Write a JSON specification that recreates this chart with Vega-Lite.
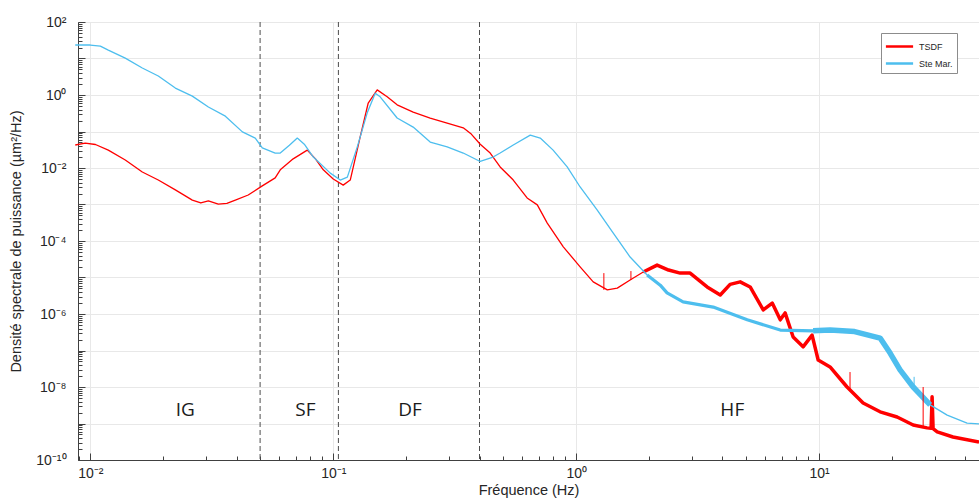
{
  "$schema": "https://vega.github.io/schema/vega-lite/v6.json",
  "width": 901,
  "height": 438,
  "autosize": {"type": "none"},
  "padding": {"left": 78, "top": 22, "right": 0, "bottom": 40},
  "background": "white",
  "config": {
    "view": {"stroke": "#404040", "strokeWidth": 1},
    "font": "Liberation Sans",
    "axis": {
      "labelFont": "Liberation Sans",
      "titleFont": "Liberation Sans",
      "labelColor": "#262626",
      "titleColor": "#262626",
      "domainColor": "#404040",
      "tickColor": "#404040",
      "gridColor": "#e8e8e8",
      "titleFontWeight": "normal",
      "labelFontSize": 14,
      "titleFontSize": 14.5,
      "labelOverlap": false,
      "labelFlush": false
    }
  },
  "datasets": {
    "psd": [
      {"series": "TSDF", "freq": 0.00867, "psd": 0.0427},
      {"series": "TSDF", "freq": 0.00953, "psd": 0.0479},
      {"series": "TSDF", "freq": 0.0105, "psd": 0.044},
      {"series": "TSDF", "freq": 0.01186, "psd": 0.0309},
      {"series": "TSDF", "freq": 0.01393, "psd": 0.0166},
      {"series": "TSDF", "freq": 0.01637, "psd": 0.00776},
      {"series": "TSDF", "freq": 0.01905, "psd": 0.00468},
      {"series": "TSDF", "freq": 0.02239, "psd": 0.00251},
      {"series": "TSDF", "freq": 0.0263, "psd": 0.00132},
      {"series": "TSDF", "freq": 0.0285, "psd": 0.0011},
      {"series": "TSDF", "freq": 0.03062, "psd": 0.00126},
      {"series": "TSDF", "freq": 0.03365, "psd": 0.00102},
      {"series": "TSDF", "freq": 0.0365, "psd": 0.00107},
      {"series": "TSDF", "freq": 0.03954, "psd": 0.00132},
      {"series": "TSDF", "freq": 0.04467, "psd": 0.00182},
      {"series": "TSDF", "freq": 0.05105, "psd": 0.00324},
      {"series": "TSDF", "freq": 0.05768, "psd": 0.00537},
      {"series": "TSDF", "freq": 0.06053, "psd": 0.00891},
      {"series": "TSDF", "freq": 0.0684, "psd": 0.0178},
      {"series": "TSDF", "freq": 0.07816, "psd": 0.0309},
      {"series": "TSDF", "freq": 0.0845, "psd": 0.0178},
      {"series": "TSDF", "freq": 0.09099, "psd": 0.00891},
      {"series": "TSDF", "freq": 0.1, "psd": 0.00501},
      {"series": "TSDF", "freq": 0.1099, "psd": 0.00339},
      {"series": "TSDF", "freq": 0.1175, "psd": 0.00468},
      {"series": "TSDF", "freq": 0.1291, "psd": 0.0708},
      {"series": "TSDF", "freq": 0.1393, "psd": 0.603},
      {"series": "TSDF", "freq": 0.1517, "psd": 1.38},
      {"series": "TSDF", "freq": 0.1667, "psd": 0.891},
      {"series": "TSDF", "freq": 0.1832, "psd": 0.537},
      {"series": "TSDF", "freq": 0.2133, "psd": 0.339},
      {"series": "TSDF", "freq": 0.2506, "psd": 0.234},
      {"series": "TSDF", "freq": 0.2944, "psd": 0.17},
      {"series": "TSDF", "freq": 0.3428, "psd": 0.126},
      {"series": "TSDF", "freq": 0.37, "psd": 0.085},
      {"series": "TSDF", "freq": 0.4027, "psd": 0.0447},
      {"series": "TSDF", "freq": 0.4426, "psd": 0.0257},
      {"series": "TSDF", "freq": 0.4864, "psd": 0.0107},
      {"series": "TSDF", "freq": 0.5508, "psd": 0.00468},
      {"series": "TSDF", "freq": 0.6281, "psd": 0.00151},
      {"series": "TSDF", "freq": 0.6918, "psd": 0.000977},
      {"series": "TSDF", "freq": 0.7603, "psd": 0.000309},
      {"series": "TSDF", "freq": 0.8851, "psd": 0.0000692},
      {"series": "TSDF", "freq": 1.038, "psd": 0.0000195},
      {"series": "TSDF", "freq": 1.175, "psd": 0.00000759},
      {"series": "TSDF", "freq": 1.343, "psd": 0.00000457},
      {"series": "TSDF", "freq": 1.476, "psd": 0.00000513},
      {"series": "TSDF", "freq": 1.667, "psd": 0.00000851},
      {"series": "TSDF", "freq": 1.888, "psd": 0.0000141},
      {"series": "TSDF", "freq": 2.153, "psd": 0.0000219},
      {"series": "TSDF", "freq": 2.4, "psd": 0.000016},
      {"series": "TSDF", "freq": 2.679, "psd": 0.0000132},
      {"series": "TSDF", "freq": 2.944, "psd": 0.0000132},
      {"series": "TSDF", "freq": 3.459, "psd": 0.0000055},
      {"series": "TSDF", "freq": 3.917, "psd": 0.00000331},
      {"series": "TSDF", "freq": 4.3, "psd": 0.0000065},
      {"series": "TSDF", "freq": 4.732, "psd": 0.00000759},
      {"series": "TSDF", "freq": 5.2, "psd": 0.0000055},
      {"series": "TSDF", "freq": 5.888, "psd": 0.00000129},
      {"series": "TSDF", "freq": 6.412, "psd": 0.000002},
      {"series": "TSDF", "freq": 6.918, "psd": 6.92e-7},
      {"series": "TSDF", "freq": 7.244, "psd": 0.00000107},
      {"series": "TSDF", "freq": 7.816, "psd": 2.34e-7},
      {"series": "TSDF", "freq": 8.59, "psd": 1.26e-7},
      {"series": "TSDF", "freq": 9.354, "psd": 2.63e-7},
      {"series": "TSDF", "freq": 9.908, "psd": 5.5e-8},
      {"series": "TSDF", "freq": 11.09, "psd": 3.55e-8},
      {"series": "TSDF", "freq": 13.03, "psd": 1e-8},
      {"series": "TSDF", "freq": 15.17, "psd": 3.63e-9},
      {"series": "TSDF", "freq": 17.82, "psd": 2.09e-9},
      {"series": "TSDF", "freq": 20.94, "psd": 1.51e-9},
      {"series": "TSDF", "freq": 24.38, "psd": 9.12e-10},
      {"series": "TSDF", "freq": 27.8, "psd": 7.59e-10},
      {"series": "TSDF", "freq": 28.9, "psd": 7.4e-10},
      {"series": "TSDF", "freq": 29.17, "psd": 5.37e-9},
      {"series": "TSDF", "freq": 29.45, "psd": 7.2e-10},
      {"series": "TSDF", "freq": 30.62, "psd": 5.89e-10},
      {"series": "TSDF", "freq": 35.56, "psd": 4.27e-10},
      {"series": "TSDF", "freq": 45.5, "psd": 3.09e-10},
      {"series": "Ste Mar.", "freq": 0.00867, "psd": 23.4},
      {"series": "Ste Mar.", "freq": 0.01, "psd": 23.4},
      {"series": "Ste Mar.", "freq": 0.011, "psd": 21.9},
      {"series": "Ste Mar.", "freq": 0.01186, "psd": 17},
      {"series": "Ste Mar.", "freq": 0.01393, "psd": 10.2},
      {"series": "Ste Mar.", "freq": 0.01637, "psd": 5.5},
      {"series": "Ste Mar.", "freq": 0.01905, "psd": 3.31},
      {"series": "Ste Mar.", "freq": 0.02239, "psd": 1.55},
      {"series": "Ste Mar.", "freq": 0.0263, "psd": 0.933},
      {"series": "Ste Mar.", "freq": 0.03062, "psd": 0.468},
      {"series": "Ste Mar.", "freq": 0.03597, "psd": 0.263},
      {"series": "Ste Mar.", "freq": 0.04227, "psd": 0.0977},
      {"series": "Ste Mar.", "freq": 0.04775, "psd": 0.0661},
      {"series": "Ste Mar.", "freq": 0.05105, "psd": 0.0355},
      {"series": "Ste Mar.", "freq": 0.05768, "psd": 0.0257},
      {"series": "Ste Mar.", "freq": 0.06053, "psd": 0.0257},
      {"series": "Ste Mar.", "freq": 0.066, "psd": 0.042},
      {"series": "Ste Mar.", "freq": 0.07112, "psd": 0.0661},
      {"series": "Ste Mar.", "freq": 0.076, "psd": 0.045},
      {"series": "Ste Mar.", "freq": 0.08279, "psd": 0.02},
      {"series": "Ste Mar.", "freq": 0.09727, "psd": 0.00724},
      {"series": "Ste Mar.", "freq": 0.1069, "psd": 0.00468},
      {"series": "Ste Mar.", "freq": 0.1143, "psd": 0.00562},
      {"series": "Ste Mar.", "freq": 0.1256, "psd": 0.038},
      {"series": "Ste Mar.", "freq": 0.138, "psd": 0.324},
      {"series": "Ste Mar.", "freq": 0.1489, "psd": 1.12},
      {"series": "Ste Mar.", "freq": 0.156, "psd": 0.891},
      {"series": "Ste Mar.", "freq": 0.1832, "psd": 0.234},
      {"series": "Ste Mar.", "freq": 0.2133, "psd": 0.132},
      {"series": "Ste Mar.", "freq": 0.2506, "psd": 0.0513},
      {"series": "Ste Mar.", "freq": 0.2944, "psd": 0.038},
      {"series": "Ste Mar.", "freq": 0.3428, "psd": 0.0257},
      {"series": "Ste Mar.", "freq": 0.4027, "psd": 0.0151},
      {"series": "Ste Mar.", "freq": 0.455, "psd": 0.02},
      {"series": "Ste Mar.", "freq": 0.4864, "psd": 0.0257},
      {"series": "Ste Mar.", "freq": 0.5508, "psd": 0.0427},
      {"series": "Ste Mar.", "freq": 0.6471, "psd": 0.0794},
      {"series": "Ste Mar.", "freq": 0.7112, "psd": 0.0661},
      {"series": "Ste Mar.", "freq": 0.8035, "psd": 0.0309},
      {"series": "Ste Mar.", "freq": 0.9183, "psd": 0.0107},
      {"series": "Ste Mar.", "freq": 1.038, "psd": 0.00302},
      {"series": "Ste Mar.", "freq": 1.219, "psd": 0.000708},
      {"series": "Ste Mar.", "freq": 1.419, "psd": 0.000166},
      {"series": "Ste Mar.", "freq": 1.667, "psd": 0.0000363},
      {"series": "Ste Mar.", "freq": 1.959, "psd": 0.0000117},
      {"series": "Ste Mar.", "freq": 2.218, "psd": 0.00000617},
      {"series": "Ste Mar.", "freq": 2.366, "psd": 0.0000038},
      {"series": "Ste Mar.", "freq": 2.754, "psd": 0.00000214},
      {"series": "Ste Mar.", "freq": 3.664, "psd": 0.00000155},
      {"series": "Ste Mar.", "freq": 5.058, "psd": 6.92e-7},
      {"series": "Ste Mar.", "freq": 6.918, "psd": 3.63e-7},
      {"series": "Ste Mar.", "freq": 9.441, "psd": 3.47e-7},
      {"series": "Ste Mar.", "freq": 11.09, "psd": 3.63e-7},
      {"series": "Ste Mar.", "freq": 14, "psd": 3.3e-7},
      {"series": "Ste Mar.", "freq": 17.82, "psd": 2.19e-7},
      {"series": "Ste Mar.", "freq": 19.59, "psd": 8.51e-8},
      {"series": "Ste Mar.", "freq": 21.53, "psd": 2.95e-8},
      {"series": "Ste Mar.", "freq": 24.38, "psd": 1e-8},
      {"series": "Ste Mar.", "freq": 28.64, "psd": 3.24e-9},
      {"series": "Ste Mar.", "freq": 33.65, "psd": 1.7e-9},
      {"series": "Ste Mar.", "freq": 40.64, "psd": 1.02e-9},
      {"series": "Ste Mar.", "freq": 45.5, "psd": 9.77e-10}
    ],
    "spikes": [
      {"series": "TSDF", "freq": 1.3, "lo": 0.0000046, "hi": 0.0000132},
      {"series": "TSDF", "freq": 1.68, "lo": 0.0000085, "hi": 0.000015},
      {"series": "TSDF", "freq": 13.4, "lo": 8.3e-9, "hi": 2.57e-8},
      {"series": "TSDF", "freq": 26.8, "lo": 8e-10, "hi": 1e-8},
      {"series": "Ste Mar.", "freq": 24.6, "lo": 1e-8, "hi": 1.9e-8}
    ],
    "bands": [{"f": 0.05}, {"f": 0.105}, {"f": 0.4}],
    "regions": [
      {"label": "IG", "f": 0.0246, "level": 2.3e-9},
      {"label": "SF", "f": 0.0768, "level": 2.3e-9},
      {"label": "DF", "f": 0.207, "level": 2.3e-9},
      {"label": "HF", "f": 4.39, "level": 2.3e-9}
    ]
  },
  "layer": [
    {
      "data": {"name": "bands"},
      "mark": {"type": "rule", "color": "#4d4d4d", "strokeDash": [5, 3], "strokeWidth": 1},
      "encoding": {
        "x": {
          "field": "f", "type": "quantitative",
          "scale": {"type": "log", "domain": [0.0089, 45.5], "nice": false},
          "axis": {
            "title": "Fréquence (Hz)",
            "values": [0.009, 0.01, 0.02, 0.03, 0.04, 0.05, 0.06, 0.07, 0.08, 0.09, 0.1, 0.2, 0.3, 0.4, 0.5, 0.6, 0.7, 0.8, 0.9, 1, 2, 3, 4, 5, 6, 7, 8, 9, 10, 20, 30, 40],
            "labelExpr": "datum.value == 0.01 ? '10⁻²' : datum.value == 0.1 ? '10⁻¹' : datum.value == 1 ? '10⁰' : datum.value == 10 ? '10¹' : ''",
            "tickSize": {"condition": {"test": "datum.value == 0.01 || datum.value == 0.1 || datum.value == 1 || datum.value == 10", "value": -7}, "value": -4},
            "grid": true,
            "gridOpacity": {"condition": {"test": "datum.value == 0.01 || datum.value == 0.1 || datum.value == 1 || datum.value == 10", "value": 1}, "value": 0},
            "labelPadding": 13,
            "titleBaseline": "alphabetic",
            "titleY": 34
          }
        }
      }
    },
    {
      "data": {"name": "psd"},
      "transform": [{"filter": "datum.series == 'TSDF'"}],
      "mark": {"type": "line", "strokeWidth": 1.3, "strokeJoin": "round"},
      "encoding": {
        "x": {"field": "freq", "type": "quantitative", "scale": {"type": "log", "domain": [0.0089, 45.5], "nice": false}},
        "y": {
          "field": "psd", "type": "quantitative",
          "scale": {"type": "log", "domain": [1e-10, 100], "nice": false},
          "axis": {
            "title": "Densité spectrale de puissance (µm²/Hz)",
            "values": [1e-10, 2e-10, 3e-10, 4e-10, 5e-10, 6e-10, 7e-10, 8e-10, 9e-10, 1e-9, 2e-9, 3e-9, 4e-9, 5e-9, 6e-9, 7e-9, 8e-9, 9e-9, 1e-8, 2e-8, 3e-8, 4e-8, 5e-8, 6e-8, 7e-8, 8e-8, 9e-8, 1e-7, 2e-7, 3e-7, 4e-7, 5e-7, 6e-7, 7e-7, 8e-7, 9e-7, 0.000001, 0.000002, 0.000003, 0.000004, 0.000005, 0.000006, 0.000007, 0.000008, 0.000009, 0.00001, 0.00002, 0.00003, 0.00004, 0.00005, 0.00006, 0.00007, 0.00008, 0.00009, 0.0001, 0.0002, 0.0003, 0.0004, 0.0005, 0.0006, 0.0007, 0.0008, 0.0009, 0.001, 0.002, 0.003, 0.004, 0.005, 0.006, 0.007, 0.008, 0.009, 0.01, 0.02, 0.03, 0.04, 0.05, 0.06, 0.07, 0.08, 0.09, 0.1, 0.2, 0.3, 0.4, 0.5, 0.6, 0.7, 0.8, 0.9, 1, 2, 3, 4, 5, 6, 7, 8, 9, 10, 20, 30, 40, 50, 60, 70, 80, 90, 100],
            "labelExpr": "datum.value == 100 ? '10²' : datum.value == 1 ? '10⁰' : datum.value == 0.01 ? '10⁻²' : datum.value == 0.0001 ? '10⁻⁴' : datum.value == 0.000001 ? '10⁻⁶' : datum.value == 1e-8 ? '10⁻⁸' : datum.value == 1e-10 ? '10⁻¹⁰' : ''",
            "tickSize": {"condition": {"test": "indexof([1e-10, 1e-9, 1e-8, 1e-7, 0.000001, 0.00001, 0.0001, 0.001, 0.01, 0.1, 1, 10, 100], datum.value) >= 0", "value": -7}, "value": -4},
            "grid": true,
            "gridOpacity": {"condition": {"test": "indexof([1e-10, 1e-9, 1e-8, 1e-7, 0.000001, 0.00001, 0.0001, 0.001, 0.01, 0.1, 1, 10, 100], datum.value) >= 0", "value": 1}, "value": 0},
            "labelPadding": 19,
            "titlePadding": 12
          }
        },
        "color": {
          "field": "series", "type": "nominal",
          "scale": {"domain": ["TSDF", "Ste Mar."], "range": ["#ff0000", "#4dbeee"]},
          "legend": {
            "title": null,
            "orient": "none",
            "legendX": 803,
            "legendY": 11,
            "direction": "vertical",
            "fillColor": "white",
            "strokeColor": "#8c8c8c",
            "padding": 4,
            "rowPadding": 2,
            "labelFontSize": 9,
            "labelFont": "Liberation Sans",
            "labelColor": "#262626",
            "symbolType": "M-1.7,0H1.7",
            "symbolSize": 256,
            "symbolStrokeWidth": 2.5,
            "symbolFillColor": "transparent",
            "symbolOffset": 5,
            "labelOffset": 10
          }
        }
      }
    },
    {
      "data": {"name": "psd"},
      "transform": [{"filter": "datum.series == 'TSDF' && datum.freq >= 1.8"}],
      "mark": {"type": "line", "strokeWidth": 3.5, "strokeJoin": "round"},
      "encoding": {
        "x": {"field": "freq", "type": "quantitative", "scale": {"type": "log", "domain": [0.0089, 45.5], "nice": false}},
        "y": {"field": "psd", "type": "quantitative", "scale": {"type": "log", "domain": [1e-10, 100], "nice": false}},
        "color": {"field": "series", "type": "nominal", "scale": {"domain": ["TSDF", "Ste Mar."], "range": ["#ff0000", "#4dbeee"]}}
      }
    },
    {
      "data": {"name": "psd"},
      "transform": [{"filter": "datum.series == 'Ste Mar.'"}],
      "mark": {"type": "line", "strokeWidth": 1.3, "strokeJoin": "round"},
      "encoding": {
        "x": {"field": "freq", "type": "quantitative", "scale": {"type": "log", "domain": [0.0089, 45.5], "nice": false}},
        "y": {"field": "psd", "type": "quantitative", "scale": {"type": "log", "domain": [1e-10, 100], "nice": false}},
        "color": {"field": "series", "type": "nominal", "scale": {"domain": ["TSDF", "Ste Mar."], "range": ["#ff0000", "#4dbeee"]}}
      }
    },
    {
      "data": {"name": "psd"},
      "transform": [{"filter": "datum.series == 'Ste Mar.' && datum.freq >= 1.9 && datum.freq <= 9.5"}],
      "mark": {"type": "line", "strokeWidth": 3.2, "strokeJoin": "round"},
      "encoding": {
        "x": {"field": "freq", "type": "quantitative", "scale": {"type": "log", "domain": [0.0089, 45.5], "nice": false}},
        "y": {"field": "psd", "type": "quantitative", "scale": {"type": "log", "domain": [1e-10, 100], "nice": false}},
        "color": {"field": "series", "type": "nominal", "scale": {"domain": ["TSDF", "Ste Mar."], "range": ["#ff0000", "#4dbeee"]}}
      }
    },
    {
      "data": {"name": "psd"},
      "transform": [{"filter": "datum.series == 'Ste Mar.' && datum.freq >= 9.4 && datum.freq <= 29"}],
      "mark": {"type": "line", "strokeWidth": 5.5, "strokeJoin": "round"},
      "encoding": {
        "x": {"field": "freq", "type": "quantitative", "scale": {"type": "log", "domain": [0.0089, 45.5], "nice": false}},
        "y": {"field": "psd", "type": "quantitative", "scale": {"type": "log", "domain": [1e-10, 100], "nice": false}},
        "color": {"field": "series", "type": "nominal", "scale": {"domain": ["TSDF", "Ste Mar."], "range": ["#ff0000", "#4dbeee"]}}
      }
    },
    {
      "data": {"name": "spikes"},
      "mark": {"type": "rule", "strokeWidth": 1},
      "encoding": {
        "x": {"field": "freq", "type": "quantitative", "scale": {"type": "log", "domain": [0.0089, 45.5], "nice": false}},
        "y": {"field": "lo", "type": "quantitative", "scale": {"type": "log", "domain": [1e-10, 100], "nice": false}},
        "y2": {"field": "hi"},
        "color": {"field": "series", "type": "nominal", "scale": {"domain": ["TSDF", "Ste Mar."], "range": ["#ff0000", "#4dbeee"]}}
      }
    },
    {
      "data": {"name": "regions"},
      "mark": {"type": "text", "font": "Open Sans", "fontSize": 19, "color": "#1a1a1a", "baseline": "middle", "align": "center"},
      "encoding": {
        "x": {"field": "f", "type": "quantitative", "scale": {"type": "log", "domain": [0.0089, 45.5], "nice": false}},
        "y": {"field": "level", "type": "quantitative", "scale": {"type": "log", "domain": [1e-10, 100], "nice": false}},
        "text": {"field": "label"}
      }
    }
  ]
}
